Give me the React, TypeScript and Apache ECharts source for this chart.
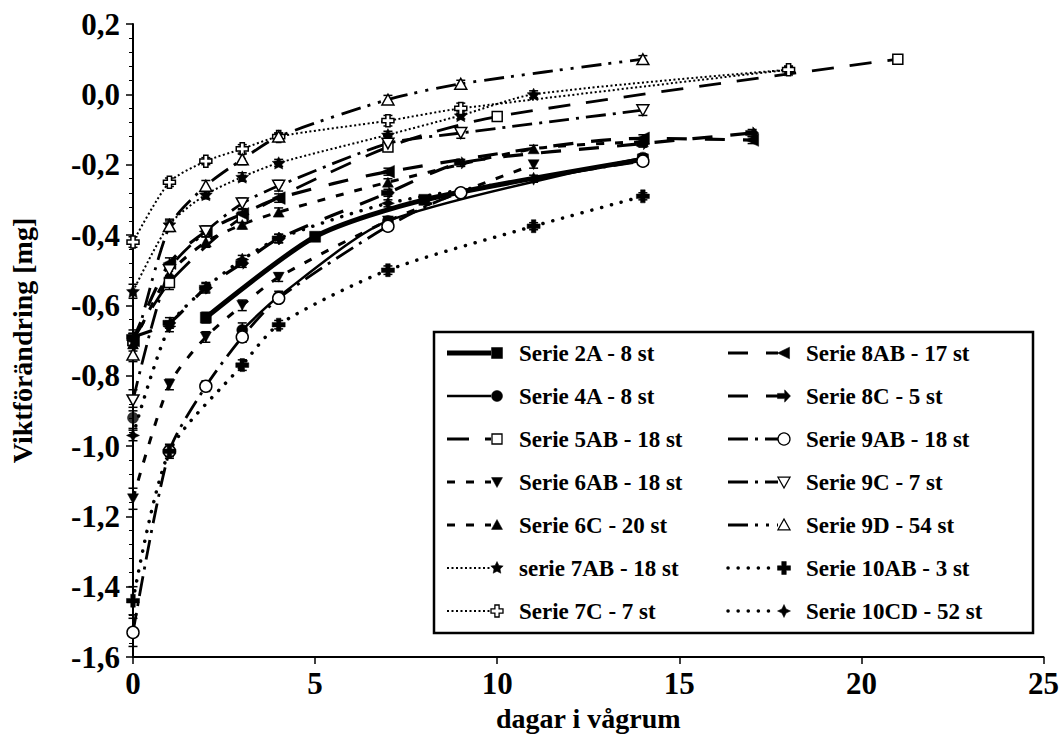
import React, { useEffect, useRef } from 'react';
import * as echarts from 'echarts';

// ---- data ----
const xMin = 0, xMax = 25, xStep = 5;
const yMin = -1.6, yMax = 0.2, yStep = 0.2;

const s2A = [[0, -0.70], [2, -0.635], [5, -0.405], [8, -0.30], [14, -0.185]];
const e2A = [0.02, 0.015, 0.012, 0.01, 0.01];
const s4A = [[0, -0.92], [3, -0.67], [4, -0.575], [7, -0.36], [14, -0.18]];
const e4A = [0.03, 0.02, 0.015, 0.012, 0.01];
const s5AB = [[0, -0.70], [1, -0.535], [3, -0.35], [7, -0.15], [10, -0.063], [21, 0.10]];
const e5AB = [0.02, 0.02, 0.015, 0.012, 0.01, 0.01];
const s6AB = [[0, -1.15], [1, -0.825], [2, -0.69], [3, -0.60], [4, -0.52], [7, -0.36], [11, -0.20]];
const e6AB = [0.03, 0.015, 0.015, 0.015, 0.012, 0.012, 0.01];
const s6C = [[0, -0.71], [1, -0.51], [2, -0.42], [3, -0.37], [4, -0.335], [7, -0.25], [11, -0.155], [14, -0.135]];
const e6C = [0.02, 0.015, 0.015, 0.012, 0.012, 0.01, 0.01, 0.01];
const s7AB = [[0, -0.56], [1, -0.37], [2, -0.285], [3, -0.235], [4, -0.195], [7, -0.115], [9, -0.06], [11, 0.0], [18, 0.07]];
const e7AB = [0.02, 0.015, 0.012, 0.012, 0.01, 0.01, 0.01, 0.01, 0.01];
const s7C = [[0, -0.42], [1, -0.25], [2, -0.19], [3, -0.155], [4, -0.12], [7, -0.075], [9, -0.04], [18, 0.07]];
const e7C = [0.015, 0.012, 0.01, 0.012, 0.01, 0.015, 0.015, 0.01];
const s8AB = [[0, -0.70], [1, -0.48], [2, -0.39], [3, -0.34], [4, -0.295], [7, -0.22], [14, -0.125], [17, -0.13]];
const e8AB = [0.02, 0.015, 0.015, 0.012, 0.012, 0.01, 0.01, 0.01];
const s8C = [[0, -0.69], [1, -0.65], [2, -0.55], [3, -0.48], [4, -0.41], [7, -0.28], [9, -0.195], [14, -0.14], [17, -0.11]];
const e8C = [0.02, 0.015, 0.015, 0.012, 0.012, 0.01, 0.01, 0.01, 0.01];
const s9AB = [[0, -1.53], [1, -1.015], [2, -0.83], [3, -0.69], [4, -0.58], [7, -0.375], [9, -0.28], [14, -0.19]];
const e9AB = [0.04, 0.02, 0.015, 0.015, 0.012, 0.012, 0.01, 0.01];
const s9C = [[0, -0.87], [1, -0.50], [2, -0.39], [3, -0.31], [4, -0.26], [7, -0.14], [9, -0.11], [14, -0.045]];
const e9C = [0.03, 0.02, 0.015, 0.015, 0.015, 0.02, 0.015, 0.015];
const s9D = [[0, -0.74], [1, -0.375], [2, -0.26], [3, -0.185], [4, -0.12], [7, -0.015], [9, 0.03], [14, 0.10]];
const e9D = [0.02, 0.015, 0.015, 0.015, 0.01, 0.012, 0.01, 0.01];
const s10AB = [[0, -1.44], [1, -1.015], [3, -0.77], [4, -0.655], [7, -0.50], [11, -0.375], [14, -0.29]];
const e10AB = [0.04, 0.015, 0.015, 0.012, 0.012, 0.01, 0.01];
const s10CD = [[0, -0.97], [1, -0.66], [2, -0.55], [3, -0.47], [4, -0.41], [7, -0.31], [11, -0.24]];
const e10CD = [0.015, 0.015, 0.012, 0.012, 0.012, 0.01, 0.01];

const names = [
  'Serie 2A - 8 st', 'Serie 4A - 8 st', 'Serie 5AB - 18 st', 'Serie 6AB - 18 st',
  'Serie 6C - 20 st', 'serie 7AB - 18 st', 'Serie 7C - 7 st', 'Serie 8AB - 17 st',
  'Serie 8C - 5 st', 'Serie 9AB - 18 st', 'Serie 9C - 7 st', 'Serie 9D - 54 st',
  'Serie 10AB - 3 st', 'Serie 10CD - 52 st',
];

// ---- marker shapes (unit coordinates) ----
const MARK: Record<string, number[][]> = {
  triUp: [[0, -1], [1, 0.8], [-1, 0.8]],
  triDown: [[-1, -0.8], [1, -0.8], [0, 1]],
  triLeft: [[-1, 0], [0.85, -0.9], [0.85, 0.9]],
  arrowRight: [[1, 0], [0.1, -0.95], [0.1, -0.4], [-1, -0.4], [-1, 0.4], [0.1, 0.4], [0.1, 0.95]],
  star: [[0, -1], [0.29, -0.4], [0.95, -0.31], [0.47, 0.15], [0.59, 0.81], [0, 0.5], [-0.59, 0.81], [-0.47, 0.15], [-0.95, -0.31], [-0.29, -0.4]],
  plus: [[-0.35, -1], [0.35, -1], [0.35, -0.35], [1, -0.35], [1, 0.35], [0.35, 0.35], [0.35, 1], [-0.35, 1], [-0.35, 0.35], [-1, 0.35], [-1, -0.35], [-0.35, -0.35]],
  star4: [[0, -1], [0.32, -0.32], [1, 0], [0.32, 0.32], [0, 1], [-0.32, 0.32], [-1, 0], [-0.32, -0.32]],
};

const pathOf = (pts: number[][]) =>
  'path://' + pts.map((p, i) => (i ? 'L' : 'M') + (p[0] * 10 + 10).toFixed(2) + ',' + (p[1] * 10 + 10).toFixed(2)).join(' ') + ' Z';

type Def = {
  pts: number[][]; err: number[]; lineFrom: number; mark: string; open: boolean;
  width: number; dash: any; cap?: string; size: number;
};

const DEFS: Def[] = [
  { pts: s2A, err: e2A, lineFrom: 1, mark: 'rect', open: false, width: 5, dash: 'solid', size: 11 },
  { pts: s4A, err: e4A, lineFrom: 1, mark: 'circle', open: false, width: 2.5, dash: 'solid', size: 11 },
  { pts: s5AB, err: e5AB, lineFrom: 0, mark: 'rect', open: true, width: 2.8, dash: [22, 16], size: 10 },
  { pts: s6AB, err: e6AB, lineFrom: 0, mark: 'triDown', open: false, width: 3, dash: [8, 11], size: 11 },
  { pts: s6C, err: e6C, lineFrom: 0, mark: 'triUp', open: false, width: 3, dash: [8, 11], size: 11 },
  { pts: s7AB, err: e7AB, lineFrom: 0, mark: 'star', open: false, width: 2, dash: [2, 2.5], size: 13 },
  { pts: s7C, err: e7C, lineFrom: 0, mark: 'plus', open: true, width: 2, dash: [2, 2.5], size: 12 },
  { pts: s8AB, err: e8AB, lineFrom: 0, mark: 'triLeft', open: false, width: 3.2, dash: [20, 18], size: 13 },
  { pts: s8C, err: e8C, lineFrom: 0, mark: 'arrowRight', open: false, width: 3.2, dash: [20, 18], size: 13 },
  { pts: s9AB, err: e9AB, lineFrom: 0, mark: 'circle', open: true, width: 2.8, dash: [20, 7, 3, 7], size: 12 },
  { pts: s9C, err: e9C, lineFrom: 0, mark: 'triDown', open: true, width: 2.8, dash: [20, 7, 3, 7], size: 12 },
  { pts: s9D, err: e9D, lineFrom: 0, mark: 'triUp', open: true, width: 2.8, dash: [20, 7, 3, 8, 3, 8], size: 12 },
  { pts: s10AB, err: e10AB, lineFrom: 0, mark: 'plus', open: false, width: 3.5, dash: [0.1, 10], cap: 'round', size: 13 },
  { pts: s10CD, err: e10CD, lineFrom: 0, mark: 'star4', open: false, width: 3.5, dash: [0.1, 10], cap: 'round', size: 13 },
];

const FONT = '"Liberation Serif", "Times New Roman", serif';

const symbolOf = (m: string) => (m === 'rect' || m === 'circle' ? m : pathOf(MARK[m]));
const itemStyleOf = (d: Def) => d.open
  ? { color: '#fff', borderColor: '#000', borderWidth: 1.5 }
  : { color: '#000', borderColor: '#000', borderWidth: 0.5 };

function legendGraphics() {
  const els: any[] = [];
  els.push({
    type: 'rect', z: 100, shape: { x: 434, y: 332, width: 599, height: 301 },
    style: { fill: '#fff', stroke: '#000', lineWidth: 2.5 },
  });
  DEFS.forEach((d, i) => {
    const col = i < 7 ? 0 : 1;
    const row = i % 7;
    const cy = 353 + row * 43;
    const mx = col === 0 ? 497 : 784;
    const x1 = col === 0 ? 447 : 728;
    els.push({
      type: 'line', z: 101, shape: { x1, y1: cy, x2: mx - 6, y2: cy },
      style: {
        stroke: '#000', lineWidth: d.width,
        lineDash: d.dash === 'solid' ? null : d.dash, lineCap: d.cap || 'butt',
      },
    });
    const st = d.open
      ? { fill: '#fff', stroke: '#000', lineWidth: 1.3 }
      : { fill: '#000', stroke: '#000', lineWidth: 0.5 };
    const r = d.size / 2;
    if (d.mark === 'rect') {
      els.push({ type: 'rect', z: 102, shape: { x: mx - r, y: cy - r, width: 2 * r, height: 2 * r }, style: st });
    } else if (d.mark === 'circle') {
      els.push({ type: 'circle', z: 102, shape: { cx: mx, cy, r }, style: st });
    } else {
      els.push({
        type: 'polygon', z: 102,
        shape: { points: MARK[d.mark].map((p) => [mx + p[0] * r, cy + p[1] * r]) }, style: st,
      });
    }
    els.push({
      type: 'text', z: 102, x: mx + 22, y: cy,
      style: { text: names[i], fill: '#000', font: `bold 23px ${FONT}`, verticalAlign: 'middle', align: 'left' },
    });
  });
  return els;
}

const fmtY = (v: number) => {
  if (Math.abs(v) < 1e-9) return '0,0';
  return v.toFixed(1).replace('.', ',');
};

export default function App() {
  const ref = useRef<HTMLDivElement>(null);
  useEffect(() => {
    if (!ref.current) return;
    const chart = echarts.init(ref.current, null, { renderer: 'svg' });
    const series: any[] = [];
    const errData: number[][] = [];
    DEFS.forEach((d) => {
      d.pts.forEach((p, k) => errData.push([p[0], p[1], d.err[k]]));
    });
    series.push({
      type: 'custom', name: 'err', z: 2, silent: true,
      data: errData,
      renderItem: (params: any, api: any) => {
        const x = api.value(0), y = api.value(1), e = api.value(2);
        const t = api.coord([x, y + e]);
        const b = api.coord([x, y - e]);
        const hw = 4.5;
        const st = { stroke: '#000', lineWidth: 1.5 };
        return {
          type: 'group', children: [
            { type: 'line', shape: { x1: t[0], y1: t[1], x2: b[0], y2: b[1] }, style: st },
            { type: 'line', shape: { x1: t[0] - hw, y1: t[1], x2: t[0] + hw, y2: t[1] }, style: st },
            { type: 'line', shape: { x1: b[0] - hw, y1: b[1], x2: b[0] + hw, y2: b[1] }, style: st },
          ],
        };
      },
    });
    DEFS.forEach((d, i) => {
      series.push({
        type: 'line', name: names[i], data: d.pts.slice(d.lineFrom),
        smooth: 0.25,
        symbol: symbolOf(d.mark), symbolSize: d.size, symbolKeepAspect: true, showSymbol: true,
        itemStyle: itemStyleOf(d),
        lineStyle: { color: '#000', width: d.width, type: d.dash, cap: d.cap || 'butt' },
        z: 3, silent: true,
      });
      if (d.lineFrom > 0) {
        series.push({
          type: 'scatter', name: names[i] + ' ', data: d.pts.slice(0, d.lineFrom),
          symbol: symbolOf(d.mark), symbolSize: d.size, symbolKeepAspect: true,
          itemStyle: itemStyleOf(d), z: 3, silent: true,
        });
      }
    });
    chart.setOption({
      animation: false,
      backgroundColor: '#fff',
      grid: { left: 124, right: 18, top: 24, bottom: 81, containLabel: false },
      xAxis: {
        type: 'value', min: xMin, max: xMax, interval: xStep,
        name: 'dagar i vågrum', nameLocation: 'middle', nameGap: 47,
        nameTextStyle: { fontFamily: FONT, fontWeight: 'bold', fontSize: 28, color: '#000' },
        axisLine: { show: true, onZero: false, lineStyle: { color: '#000', width: 2 } },
        axisTick: { show: true, length: 7, lineStyle: { color: '#000', width: 1.5 } },
        axisLabel: { fontFamily: FONT, fontWeight: 'bold', fontSize: 31, color: '#000', margin: 11 },
        splitLine: { show: false },
      },
      yAxis: {
        type: 'value', min: yMin, max: yMax, interval: yStep,
        name: 'Viktförändring [mg]', nameLocation: 'middle', nameGap: 97, nameRotate: 90,
        nameTextStyle: { fontFamily: FONT, fontWeight: 'bold', fontSize: 28, color: '#000' },
        axisLine: { show: true, onZero: false, lineStyle: { color: '#000', width: 2 } },
        axisTick: { show: true, length: 7, lineStyle: { color: '#000', width: 1.5 } },
        minorTick: { show: true, splitNumber: 5, length: 4, lineStyle: { color: '#000', width: 1 } },
        axisLabel: { fontFamily: FONT, fontWeight: 'bold', fontSize: 31, color: '#000', margin: 13, formatter: fmtY },
        splitLine: { show: false },
      },
      graphic: legendGraphics(),
      series,
    });
    return () => chart.dispose();
  }, []);
  return (
    <div
      ref={ref}
      style={{ position: 'absolute', left: 0, top: 0, width: 1062, height: 738 }}
    />
  );
}
